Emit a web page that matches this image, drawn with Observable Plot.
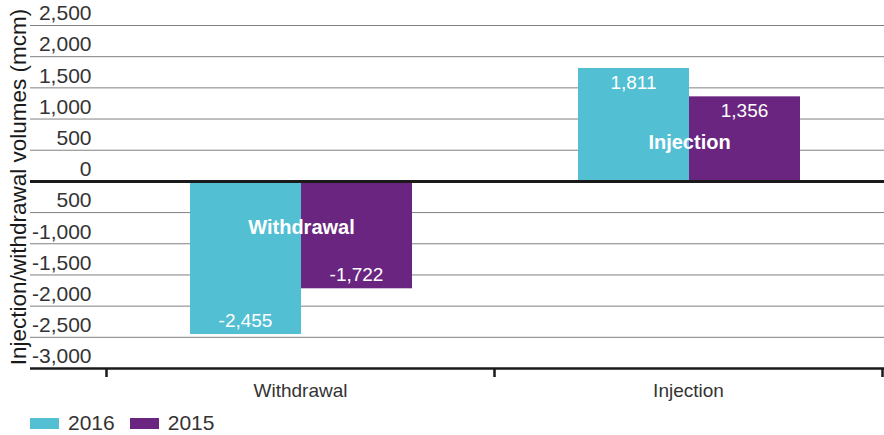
<!DOCTYPE html>
<html><head><meta charset="utf-8">
<script src="https://cdn.jsdelivr.net/npm/d3@7"></script>
<script src="https://cdn.jsdelivr.net/npm/@observablehq/plot@0.6"></script>
<style>
body{margin:0;background:#fff;font-family:"Liberation Sans",Arial,sans-serif;}
#legend{display:flex;align-items:center;height:24px;margin-top:6px;padding-left:30px;font-size:21px;color:#333;}
.item{display:flex;align-items:center;margin-right:15px;}
.sw{width:29px;height:11px;display:inline-block;margin-right:9px;}
</style></head><body><div id="chart"></div><div id="legend"></div>
<script>
const categories = ["Withdrawal", "Injection"];
const years = ["2016", "2015"];
const values2016 = [-2455, 1811];
const values2015 = [-1722, 1356];
const valueLabels2016 = ["-2,455", "1,811"];
const valueLabels2015 = ["-1,722", "1,356"];
const yTicks = [2500, 2000, 1500, 1000, 500, 0, -500, -1000, -1500, -2000, -2500, -3000];
const yTickLabels = ["2,500", "2,000", "1,500", "1,000", "500", "0", "500", "-1,000", "-1,500", "-2,000", "-2,500", "-3,000"];
const barGroupLabelY = [-740, 620];
const yLabel = "Injection/withdrawal volumes (mcm)";
const colors = ["#52bfd3", "#69257f"];

const rows = [];
categories.forEach((c, i) => {
  rows.push({cat: c, year: years[0], value: values2016[i], label: valueLabels2016[i]});
  rows.push({cat: c, year: years[1], value: values2015[i], label: valueLabels2015[i]});
});
const groupLabels = categories.map((c, i) => ({cat: c, y: barGroupLabelY[i]}));

const font = "Liberation Sans, Arial, sans-serif";
const offs = {"2016": {l: 84, r: 193, dx: -55}, "2015": {l: 195, r: 82, dx: 56}};

const marks = [];
// gridlines
marks.push(Plot.ruleY(yTicks.filter(d => d !== 0 && d !== -3000), {stroke: "#808080", strokeWidth: 1, insetRight: -2}));
// bars
for (const yr of years) {
  marks.push(Plot.barY(rows.filter(d => d.year === yr), {x: "cat", y: "value", fill: "year", insetLeft: offs[yr].l, insetRight: offs[yr].r}));
}
// zero line and bottom axis line
marks.push(Plot.ruleY([0], {stroke: "#1a1a1a", strokeWidth: 3, insetRight: -2}));
marks.push(Plot.ruleY([-3000], {stroke: "#1a1a1a", strokeWidth: 2.5, insetRight: -2}));
// x ticks at band boundaries
marks.push(Plot.ruleX(categories, {x: d => d, y1: -3000, y2: -3000, insetBottom: -9, stroke: "#1a1a1a", strokeWidth: 2.5, dx: -194}));
marks.push(Plot.ruleX([categories[categories.length - 1]], {x: d => d, y1: -3000, y2: -3000, insetBottom: -9, stroke: "#1a1a1a", strokeWidth: 2.5, dx: 194}));
// value labels
for (const yr of years) {
  const sub = rows.filter(d => d.year === yr);
  marks.push(Plot.text(sub.filter(d => d.value > 0), {x: "cat", y: "value", text: "label", dx: offs[yr].dx, dy: 14, fill: "white", fontSize: 19, fontFamily: font}));
  marks.push(Plot.text(sub.filter(d => d.value < 0), {x: "cat", y: "value", text: "label", dx: offs[yr].dx, dy: -14, fill: "white", fontSize: 19, fontFamily: font}));
}
// group labels in bars
marks.push(Plot.text(groupLabels, {x: "cat", y: "y", text: "cat", dx: 1, fill: "white", fontWeight: "bold", fontSize: 20, fontFamily: font}));
// axes
marks.push(Plot.axisY({ticks: yTicks, tickFormat: (d) => yTickLabels[yTicks.indexOf(d)], tickSize: 0, textAnchor: "end", dx: 70, dy: -12, fontSize: 21, fill: "#333", label: null, fontFamily: font}));
marks.push(Plot.axisX({tickSize: 0, tickPadding: 15, fontSize: 19, fill: "#333", label: null, fontFamily: font}));
marks.push(Plot.text([yLabel], {frameAnchor: "left", textAnchor: "middle", rotate: -90, dx: -12, dy: -10, fontSize: 22.5, fill: "#1a1a1a", fontFamily: font}));

const chart = Plot.plot({
  width: 884,
  height: 405,
  marginLeft: 30,
  marginRight: 2,
  marginTop: 25,
  marginBottom: 37,
  style: {fontFamily: font, background: "white", overflow: "visible"},
  x: {domain: categories, range: [106, 882], padding: 0, axis: null},
  y: {domain: [-3000, 2500], axis: null},
  color: {domain: years, range: colors},
  marks
});
document.getElementById("chart").appendChild(chart);

const legend = document.getElementById("legend");
years.forEach((y, i) => {
  const it = document.createElement("div");
  it.className = "item";
  const sw = document.createElement("span");
  sw.className = "sw";
  sw.style.background = colors[i];
  it.appendChild(sw);
  it.appendChild(document.createTextNode(y));
  legend.appendChild(it);
});
</script></body></html>
